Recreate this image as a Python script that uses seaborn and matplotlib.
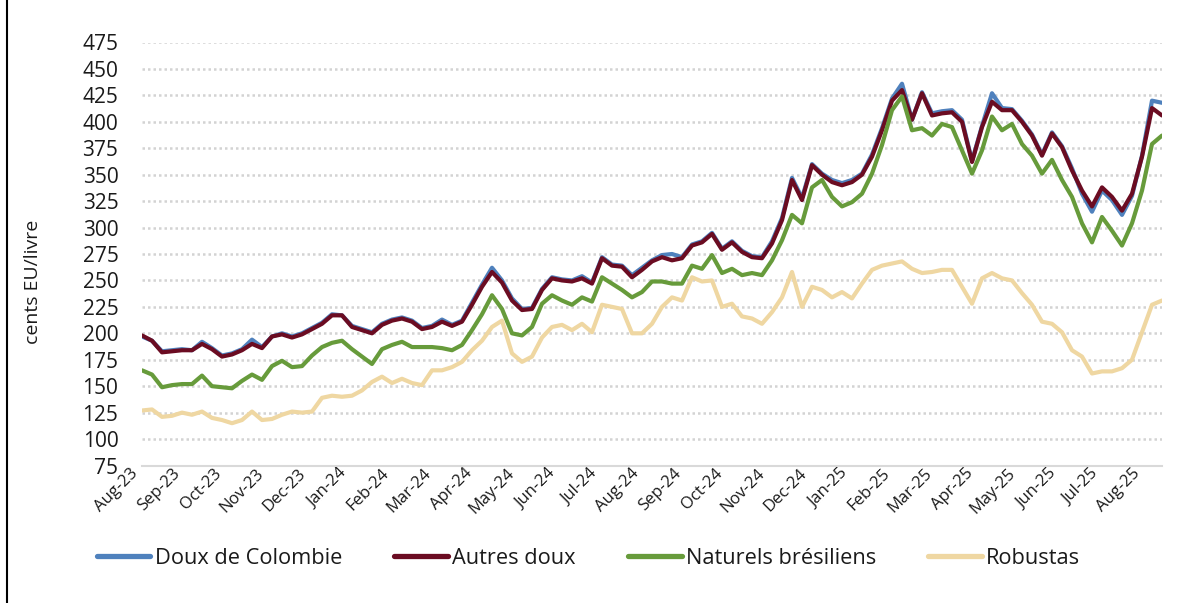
import numpy as np
import pandas as pd
import matplotlib
matplotlib.use("Agg")
import matplotlib.pyplot as plt
import matplotlib.transforms as mtransforms
from matplotlib.lines import Line2D
import seaborn as sns

month_labels = ["Aug-23", "Sep-23", "Oct-23", "Nov-23", "Dec-23", "Jan-24", "Feb-24", "Mar-24",
                "Apr-24", "May-24", "Jun-24", "Jul-24", "Aug-24", "Sep-24", "Oct-24", "Nov-24",
                "Dec-24", "Jan-25", "Feb-25", "Mar-25", "Apr-25", "May-25", "Jun-25", "Jul-25", "Aug-25"]

series_names = ["Doux de Colombie", "Autres doux", "Naturels brésiliens", "Robustas"]

colombie = [197, 193, 183, 184, 185, 184, 192, 186, 179, 181, 185, 194, 187, 197, 200, 197, 200, 205, 210, 218, 217,
            207, 204, 201, 209, 213, 215, 212, 205, 207, 213, 208, 212, 229, 246, 262, 250, 233, 223, 224, 242, 253,
            251, 250, 254, 248, 272, 265, 264, 255, 262, 269, 274, 275, 272, 284, 287, 295, 280, 287, 278, 273,
            272, 287, 309, 347, 328, 360, 351, 345, 342, 345, 351, 369, 394, 422, 436, 402, 428, 408, 410, 411, 402,
            363, 396, 427, 413, 412, 401, 388, 369, 390, 377, 356, 332, 315, 335, 326, 312, 330, 368, 420, 418]

autres_doux = [198, 193, 182, 183, 184, 184, 190, 185, 178, 180, 184, 190, 186, 197, 199, 196, 199, 204, 209, 217, 217,
               206, 203, 200, 208, 212, 214, 211, 204, 206, 211, 207, 211, 227, 244, 258, 248, 231, 222, 223, 241, 252,
               250, 249, 252, 247, 271, 264, 263, 253, 260, 268, 272, 269, 271, 283, 286, 294, 279, 286, 277, 272,
               271, 285, 307, 345, 326, 359, 350, 343, 340, 343, 350, 367, 392, 420, 430, 402, 427, 406, 408, 409, 400,
               362, 395, 419, 411, 411, 400, 387, 368, 389, 376, 354, 335, 320, 338, 329, 316, 332, 367, 413, 406]

naturels = [165, 161, 149, 151, 152, 152, 160, 150, 149, 148, 155, 161, 156, 169, 174, 168, 169, 179, 187, 191, 193,
            185, 178, 171, 185, 189, 192, 187, 187, 187, 186, 184, 189, 203, 218, 236, 223, 200, 198, 206, 228, 236,
            231, 227, 234, 230, 253, 247, 241, 234, 239, 249, 249, 247, 247, 264, 261, 274, 257, 261, 255, 257,
            255, 269, 288, 312, 304, 338, 345, 329, 320, 324, 332, 351, 378, 411, 424, 392, 394, 387, 398, 395, 373,
            351, 373, 405, 392, 398, 379, 368, 351, 364, 345, 329, 304, 286, 310, 297, 283, 304, 335, 379, 387]

robustas = [127, 128, 121, 122, 125, 123, 126, 120, 118, 115, 118, 126, 118, 119, 123, 126, 125, 126, 139, 141, 140,
            141, 146, 154, 159, 153, 157, 153, 151, 165, 165, 168, 173, 184, 193, 206, 212, 181, 173, 178, 196, 206,
            208, 203, 209, 201, 227, 225, 223, 200, 200, 209, 225, 234, 231, 253, 249, 250, 225, 228, 216, 214,
            209, 220, 234, 258, 225, 244, 241, 234, 239, 233, 247, 260, 264, 266, 268, 261, 257, 258, 260, 260, 244,
            228, 252, 257, 252, 250, 238, 227, 211, 209, 201, 184, 178, 162, 164, 164, 167, 175, 201, 227, 231]

colors = ["#4f81bd", "#6b0c22", "#679b3b", "#efd7a2"]

sns.set_theme(style="white")
plt.rcParams["font.family"] = ["Open Sans", "DejaVu Sans"]

W, H = 1198, 603
fig = plt.figure(figsize=(W / 100, H / 100), dpi=100)
ax = fig.add_axes([142 / W, 1 - 465.5 / H, 1020 / W, 423 / H])

n = len(autres_doux)
step = 10 / 41.75  # months per sample
x = np.arange(n) * step
df = pd.DataFrame({
    "x": np.tile(x, 4),
    "v": colombie + autres_doux + naturels + robustas,
    "s": np.repeat(series_names, n),
})
sns.lineplot(data=df, x="x", y="v", hue="s", hue_order=series_names,
             palette=dict(zip(series_names, colors)), lw=3.0, ax=ax, legend=False)

ax.set_xlim(0, x[-1])
ax.set_ylim(75, 475)
ax.set_yticks(range(75, 476, 25))
ax.yaxis.grid(True, color="#d3d3d3", lw=1.8, ls=(0, (1, 1.2)))
ax.xaxis.grid(False)
ax.set_axisbelow(True)
for side in ["left", "top", "right"]:
    ax.spines[side].set_visible(False)
ax.spines["bottom"].set_color("#d9d9d9")
ax.spines["bottom"].set_linewidth(1.5)
ax.set_xlabel("")
ax.set_ylabel("")

ax.tick_params(axis="y", length=0, pad=17, labelsize=15, labelcolor="#1a1a1a")
ax.tick_params(axis="x", length=0, pad=4, labelsize=12, labelcolor="#1a1a1a")
ax.set_xticks(np.arange(len(month_labels)))
ax.set_xticklabels(month_labels, rotation=45, ha="right", va="center", rotation_mode="anchor")
offset = mtransforms.ScaledTranslation(-6 / 100, 0, fig.dpi_scale_trans)
for lbl in ax.get_xticklabels():
    lbl.set_transform(lbl.get_transform() + offset)

fig.text(33 / W, 1 - 282 / H, "cents EU/livre", rotation=90, ha="center", va="center",
         fontsize=14, color="#1a1a1a")

handles = [Line2D([0], [0], color=c, lw=3.8) for c in colors]
fig.legend(handles, series_names, loc="center left", bbox_to_anchor=(97 / W, 1 - 558 / H),
           ncol=4, frameon=False, fontsize=15.7, handlelength=2.45, handletextpad=0.2,
           columnspacing=2.4, borderpad=0, borderaxespad=0, labelcolor="#1a1a1a")

fig.add_artist(Line2D([7 / W, 7 / W], [0, 1], color="black", lw=1.5, transform=fig.transFigure))

fig.savefig("out.png", dpi=100)
